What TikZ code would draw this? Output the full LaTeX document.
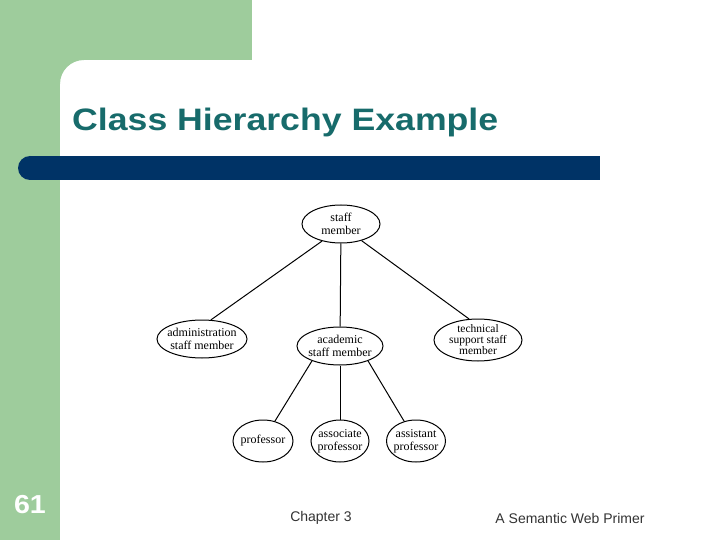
\documentclass[tikz,border=0pt]{standalone}
\usepackage{fontspec}
\setmainfont{Liberation Serif}
\newfontfamily\arialfont{Liberation Sans}
\usetikzlibrary{shapes.geometric}
\definecolor{slidegreen}{HTML}{9ECC9C}
\definecolor{slidenavy}{HTML}{003366}
\definecolor{titleteal}{HTML}{176B6B}
\definecolor{footgray}{HTML}{333333}
\tikzset{
  cls/.style={ellipse, draw=black, line width=1pt, inner xsep=-8pt, inner ysep=-4pt, align=center,
    font=\fontsize{12}{13}\selectfont},
  link/.style={draw=black, line width=1pt}
}
\begin{document}
\begin{tikzpicture}[x=1pt,y=-1pt]
\useasboundingbox (0,0) rectangle (720,540);
\fill[white] (0,0) rectangle (720,540);
% green frame
\fill[slidegreen] (0,0) rectangle (252,60);
\fill[slidegreen] (0,0) rectangle (60,540);
\fill[slidegreen] (60,60) -- (84,60) .. controls (70.7,60) and (60,70.7) .. (60,84) -- cycle;
% navy bar
\fill[slidenavy] (30,156) rectangle (600,180);
\fill[slidenavy] (30,168) circle[radius=12];
% title
\node[anchor=west, font=\arialfont\bfseries\fontsize{31}{34}\selectfont, text=titleteal, inner sep=0pt, xscale=1.15] (title) at (72,122) {Class Hierarchy Example};
% nodes
\node[cls, minimum width=78pt, minimum height=38pt] (staff) at (341,224) {staff\\member};
\node[cls, minimum width=90pt, minimum height=38pt] (admin) at (202,339) {administration\\staff member};
\node[cls, minimum width=86pt, minimum height=38pt] (acad) at (340,346) {academic\\staff member};
\node[cls, minimum width=88pt, minimum height=42pt, font=\fontsize{11.5}{11}\selectfont, inner ysep=-8pt] (tech) at (478,340) {technical\\support staff\\member};
\node[cls, minimum width=60pt, minimum height=42pt] (prof) at (263,441) {professor};
\node[cls, minimum width=58pt, minimum height=42pt] (assoc) at (340,441) {associate\\professor};
\node[cls, minimum width=59pt, minimum height=42pt] (assist) at (416,441) {assistant\\professor};
% links
\draw[link] (staff.222) -- (admin.65);
\draw[link] (staff) -- (acad);
\draw[link] (staff.321) -- (tech.113);
\draw[link] (acad.208) -- (prof.59);
\draw[link] (acad) -- (assoc);
\draw[link] (acad.332) -- (assist.121);
% footer
\node[font=\arialfont\bfseries\fontsize{26}{28}\selectfont, text=white, inner sep=0pt, xscale=1.1] (num) at (30,505) {61};
\node[font=\arialfont\fontsize{14}{16}\selectfont, text=footgray, inner sep=0pt] (chap) at (321,518) {Chapter 3};
\node[font=\arialfont\fontsize{14}{16}\selectfont, text=footgray, inner sep=0pt] (book) at (570,518) {A Semantic Web Primer};
\end{tikzpicture}
\end{document}
